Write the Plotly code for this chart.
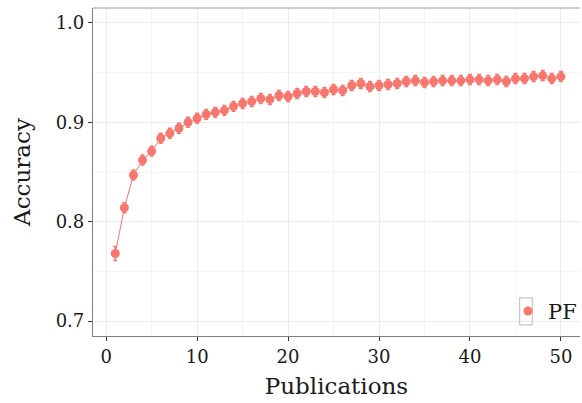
import plotly.graph_objects as go

publications = list(range(1, 51))
accuracy = [0.768, 0.814, 0.847, 0.862, 0.871, 0.884, 0.889, 0.894, 0.900, 0.904,
            0.908, 0.910, 0.912, 0.916, 0.919, 0.921, 0.924, 0.923, 0.927, 0.926,
            0.929, 0.931, 0.931, 0.930, 0.933, 0.932, 0.937, 0.939, 0.936, 0.937,
            0.938, 0.939, 0.941, 0.942, 0.940, 0.941, 0.942, 0.942, 0.942, 0.943,
            0.943, 0.942, 0.943, 0.941, 0.944, 0.944, 0.946, 0.947, 0.944, 0.946]
err = [0.007] + [0.005] * 49
x_ticks = [0, 10, 20, 30, 40, 50]
y_ticks = [0.7, 0.8, 0.9, 1.0]
y_tick_labels = ["0.7", "0.8", "0.9", "1.0"]
series_name = "PF"
color = "#F8766D"

font = "DejaVu Serif"

fig = go.Figure()
fig.add_trace(go.Scatter(
    x=publications, y=accuracy, mode="lines+markers", name=series_name,
    line=dict(color=color, width=1),
    marker=dict(color=color, size=9),
    error_y=dict(type="data", array=err, color=color, thickness=1.5, width=2),
    showlegend=False,
))
# legend key (markers only, as in the reference legend)
fig.add_trace(go.Scatter(
    x=[None], y=[None], mode="markers", name=series_name,
    marker=dict(color=color, size=9), showlegend=True,
))

fig.update_layout(
    width=582, height=403,
    margin=dict(l=93, r=0, t=8, b=67),
    paper_bgcolor="white", plot_bgcolor="white",
    font=dict(family=font, size=18, color="#1a1a1a"),
    showlegend=True,
    legend=dict(x=0.853, y=0.075, xanchor="left", yanchor="middle",
                bgcolor="rgba(0,0,0,0)", font=dict(size=21, family=font),
                itemwidth=30, tracegroupgap=0),
    xaxis=dict(range=[-1.45, 52.1], tickvals=x_ticks, ticks="outside", ticklen=4,
               tickcolor="#333333", showgrid=True, gridcolor="#ebebeb", gridwidth=1,
               minor=dict(dtick=5, tick0=0, showgrid=True, gridcolor="#f5f5f5"),
               showline=True, linecolor="#7f7f7f", linewidth=1.2, zeroline=False,
               title=dict(text="Publications", font=dict(size=23), standoff=12),
               tickfont=dict(size=18)),
    yaxis=dict(range=[0.685, 1.015], tickvals=y_ticks, ticktext=y_tick_labels,
               ticks="outside", ticklen=4, tickcolor="#333333",
               showgrid=True, gridcolor="#ebebeb", gridwidth=1,
               minor=dict(dtick=0.05, tick0=0.7, showgrid=True, gridcolor="#f5f5f5"),
               showline=True, linecolor="#7f7f7f", linewidth=1.2, zeroline=False,
               title=dict(text="Accuracy", font=dict(size=23), standoff=18),
               tickfont=dict(size=18)),
    shapes=[
        dict(type="line", xref="paper", yref="paper", x0=0, x1=1, y0=1, y1=1,
             line=dict(color="#9a9a9a", width=1.2)),
        # legend key box
        dict(type="rect", xref="paper", yref="paper", x0=0.876, x1=0.902,
             y0=0.034, y1=0.116, line=dict(color="#c8c8c8", width=1.2)),
    ],
)

fig.write_html("out.html")
